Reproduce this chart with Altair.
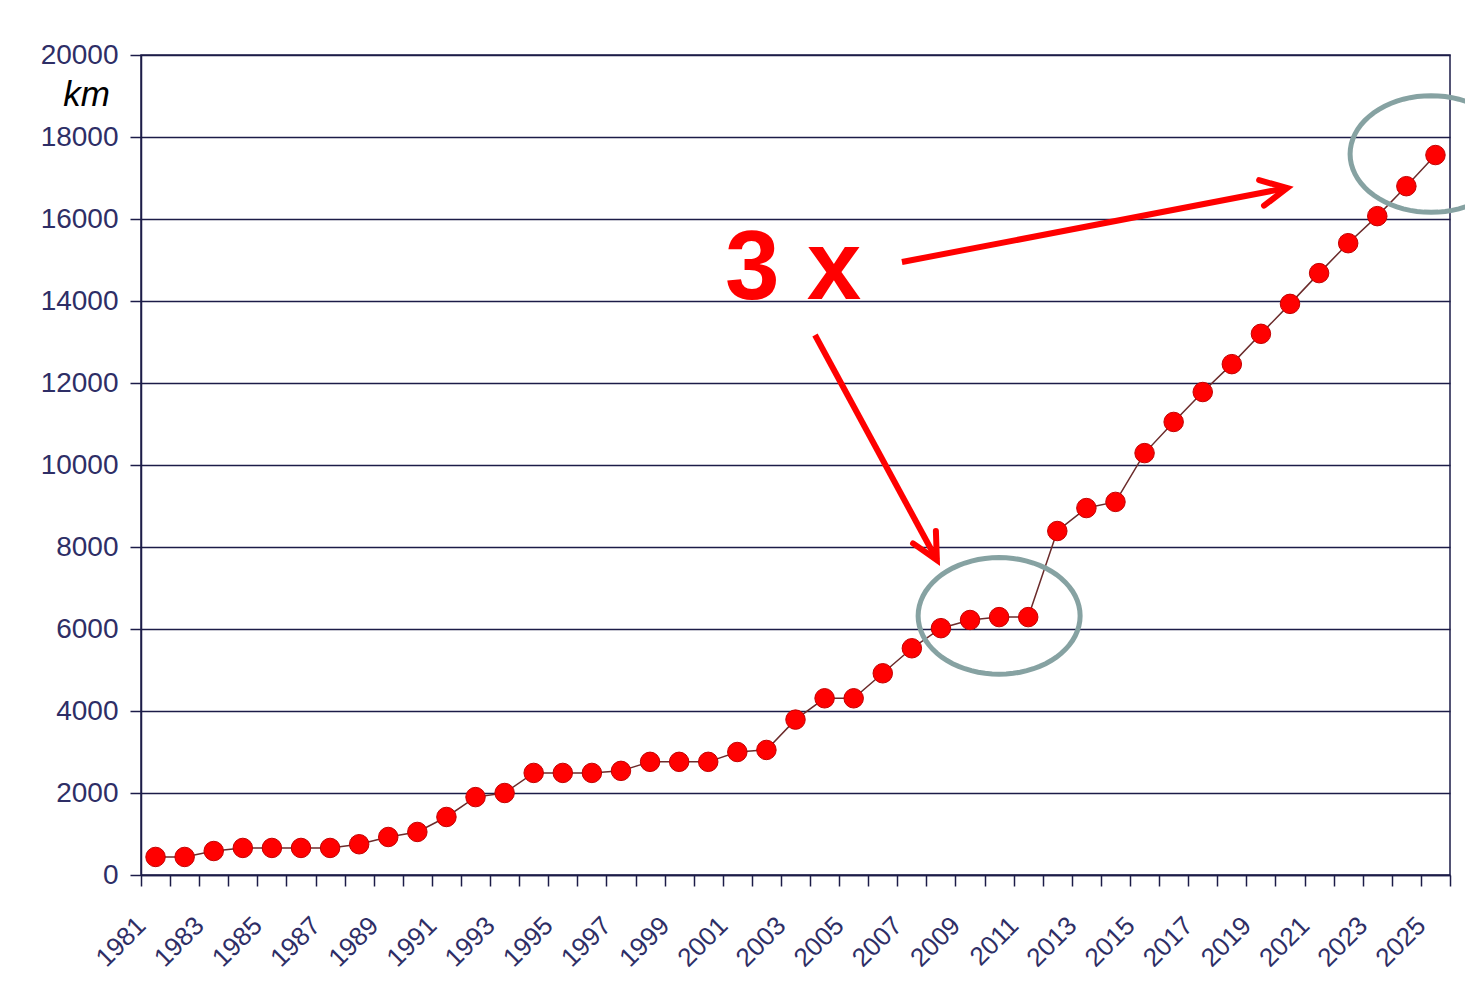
import altair as alt
import pandas as pd
import numpy as np

# ---- data ----
years = list(range(1981, 2026))
km = [440, 440, 585, 660, 660, 660, 660, 750, 927, 1050,
      1415, 1900, 2000, 2490, 2490, 2490, 2540, 2760, 2760, 2760,
      3000, 3050, 3790, 4310, 4310, 4920, 5530, 6020, 6220, 6290,
      6290, 8390, 8950, 9100, 10290, 11050, 11780, 12460, 13200, 13930,
      14680, 15410, 16070, 16800, 17560]

y_ticks = list(range(0, 20001, 2000))
x_ticks = [1980.5 + i for i in range(46)]

# annotations (positions in data units)
note_text = ["3 x"]
note_year = [2000.58]
note_km = [14049]

arrow_year = [2006.66, 2003.67]
arrow_km = [14951, 13171]
arrow_year2 = [2019.90, 2007.86]
arrow_km2 = [16756, 7683]
arrow_angle = [349.1, 61.5]

ellipse_year = [2010.0, 2024.85]
ellipse_km = [6320, 17585]

NAVY = "#1c1c48"
LABEL = "#2e2e66"
RED = "#ff0000"
FONT = "Liberation Sans"

df = pd.DataFrame({"year": years, "km": km})
df_text = pd.DataFrame({"year": note_year, "km": note_km, "t": note_text})
df_arrow = pd.DataFrame({"year": arrow_year, "km": arrow_km,
                         "year2": arrow_year2, "km2": arrow_km2,
                         "ang": arrow_angle})
df_ell = pd.DataFrame({"year": ellipse_year, "km": ellipse_km})

xscale = alt.Scale(domain=[1980.5, 2025.5], nice=False, zero=False)
yscale = alt.Scale(domain=[0, 20000], nice=False)

x_axis = alt.Axis(
    values=x_ticks,
    labelExpr="(datum.value + 0.5) % 2 == 1 ? format(datum.value + 0.5, 'd') : ''",
    labelAngle=315, labelOffset=-9, labelPadding=26, labelFontSize=26,
    labelFont=FONT, labelColor=LABEL, labelOverlap=False, labelBound=False,
    tickSize=11, tickColor=NAVY, tickWidth=1.5,
    domainColor=NAVY, domainWidth=1.5, grid=False, title=None,
)
y_axis = alt.Axis(
    values=y_ticks, format="d", labelFontSize=28, labelFont=FONT,
    labelColor=LABEL, labelPadding=12, tickSize=11, tickColor=NAVY,
    tickWidth=1.5, domainColor=NAVY, domainWidth=1.5,
    grid=True, gridColor=NAVY, gridWidth=1.5, gridOpacity=1,
    title="km", titleAngle=0, titleFontStyle="italic", titleFontWeight="normal",
    titleFontSize=35, titleFont=FONT, titleColor="#000000",
    titleX=-55, titleY=50, titleAlign="center", titleBaseline="alphabetic",
)


def X(field):
    return alt.X(f"{field}:Q", scale=xscale, axis=x_axis)


def Y(field):
    return alt.Y(f"{field}:Q", scale=yscale, axis=y_axis)


line = alt.Chart(df).mark_line(color="#6b2b2b", strokeWidth=1.5).encode(x=X("year"), y=Y("km"))
points = alt.Chart(df).mark_point(
    filled=True, shape="circle", size=380, color=RED, stroke="#c40000",
    strokeWidth=1, opacity=1
).encode(x=X("year"), y=Y("km"))

t = np.linspace(0, 2 * np.pi, 73)[:-1]
ellipse_path = "M " + " L ".join(f"{np.cos(a):.4f} {0.72 * np.sin(a):.4f}" for a in t) + " Z"

ellipses = alt.Chart(df_ell).mark_point(
    shape=ellipse_path, size=162 * 162, filled=False, stroke="#86a2a2",
    strokeWidth=5, opacity=1
).encode(x=X("year"), y=Y("km"))

arrow_lines = alt.Chart(df_arrow).mark_rule(color=RED, strokeWidth=6).encode(
    x=X("year"), y=Y("km"), x2="year2:Q", y2="km2:Q",
)
arrow_heads = alt.Chart(df_arrow).mark_point(
    shape="M -1 -0.5 L 0 0 L -1 0.5", size=2700, filled=False, stroke=RED,
    strokeWidth=6, strokeJoin="miter", strokeCap="round", opacity=1
).encode(
    x=X("year2"), y=Y("km2"),
    angle=alt.Angle("ang:Q", scale=None),
)

label = alt.Chart(df_text).mark_text(
    font=FONT, fontSize=98, fontWeight="bold", color=RED, align="left",
    baseline="alphabetic"
).encode(x=X("year"), y=Y("km"), text="t:N")

chart = alt.layer(line, points, ellipses, arrow_lines, arrow_heads, label).properties(
    width=1309, height=820,
    padding={"left": 141, "top": 55, "right": 15, "bottom": 121},
    autosize=alt.AutoSizeParams(type="none"),
    background="#ffffff",
).configure_view(stroke=NAVY, strokeWidth=1.5)

chart.save("out.html", embed_options={"renderer": "svg", "actions": False})
